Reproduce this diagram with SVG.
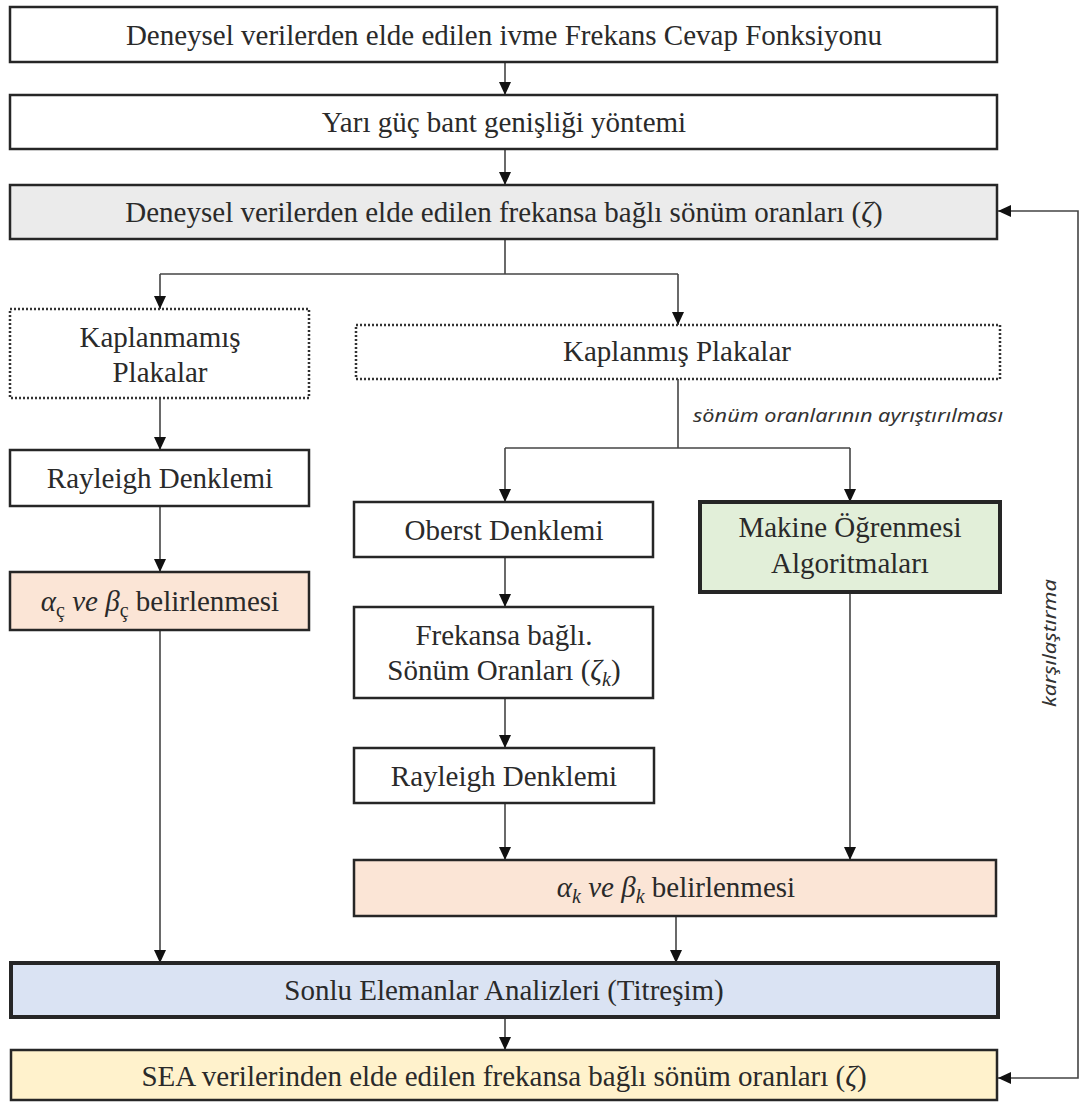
<svg xmlns="http://www.w3.org/2000/svg" width="1086" height="1104" viewBox="0 0 1086 1104">
<style>
.box{fill:#ffffff;stroke:#262626;stroke-width:2.5}
.thick{stroke-width:4}
.dot{fill:#ffffff;stroke:#333333;stroke-width:2.5;stroke-dasharray:2 2}
.t{font-family:"Liberation Serif","Times New Roman",serif;font-size:29px;fill:#2a2a2a;text-anchor:middle}
.it{font-style:italic}
.lbl{font-family:"Noto Sans","Liberation Sans",sans-serif;font-style:italic;font-size:18px;fill:#333333}
.c{fill:none;stroke:#444444;stroke-width:1.6}
</style>
<defs>
<marker id="ah" markerUnits="userSpaceOnUse" markerWidth="14" markerHeight="13" refX="13" refY="6" orient="auto-start-reverse">
<path d="M0,0 L13,6 L0,12 z" fill="#111111"/>
</marker>
</defs>

<g id="connectors">
<path class="c" d="M505 62 V95" marker-end="url(#ah)"/>
<path class="c" d="M505 149 V185" marker-end="url(#ah)"/>
<path class="c" d="M505 239 V274"/>
<path class="c" d="M160 274 H678"/>
<path class="c" d="M160 274 V309" marker-end="url(#ah)"/>
<path class="c" d="M678 274 V325" marker-end="url(#ah)"/>
<path class="c" d="M160 398 V450" marker-end="url(#ah)"/>
<path class="c" d="M160 506 V572" marker-end="url(#ah)"/>
<path class="c" d="M160 630 V963" marker-end="url(#ah)"/>
<path class="c" d="M678 379 V448"/>
<path class="c" d="M505 448 H850"/>
<path class="c" d="M505 448 V502" marker-end="url(#ah)"/>
<path class="c" d="M850 448 V502" marker-end="url(#ah)"/>
<path class="c" d="M505 557 V607" marker-end="url(#ah)"/>
<path class="c" d="M505 698 V748" marker-end="url(#ah)"/>
<path class="c" d="M505 803 V860" marker-end="url(#ah)"/>
<path class="c" d="M850 592 V860" marker-end="url(#ah)"/>
<path class="c" d="M676 916 V963" marker-end="url(#ah)"/>
<path class="c" d="M505 1017 V1050" marker-end="url(#ah)"/>
<path class="c" d="M998 211 H1078 V1078 H998" marker-start="url(#ah)" marker-end="url(#ah)"/>
<text class="lbl" x="693" y="422" textLength="310" lengthAdjust="spacingAndGlyphs">sönüm oranlarının ayrıştırılması</text>
<text class="lbl" transform="translate(1056,643) rotate(-90)" text-anchor="middle" textLength="128" lengthAdjust="spacingAndGlyphs">karşılaştırma</text>
</g>

<g id="n1">
<rect class="box" x="10" y="7" width="987" height="55"/>
<text class="t" x="504" y="45">Deneysel verilerden elde edilen ivme Frekans Cevap Fonksiyonu</text>
</g>
<g id="n2">
<rect class="box" x="10" y="95" width="987" height="54"/>
<text class="t" x="504" y="132">Yarı güç bant genişliği yöntemi</text>
</g>
<g id="n3">
<rect class="box" x="10" y="185" width="987" height="54" style="fill:#ebebeb"/>
<text class="t" x="504" y="222">Deneysel verilerden elde edilen frekansa bağlı sönüm oranları (<tspan class="it">ζ</tspan>)</text>
</g>
<g id="n4">
<rect class="dot" x="10" y="309" width="299" height="89"/>
<text class="t" x="160" y="347">Kaplanmamış</text>
<text class="t" x="160" y="382">Plakalar</text>
</g>
<g id="n5">
<rect class="dot" x="356" y="325" width="644" height="54"/>
<text class="t" x="677" y="361">Kaplanmış Plakalar</text>
</g>
<g id="n6">
<rect class="box" x="10" y="450" width="299" height="56"/>
<text class="t" x="160" y="488">Rayleigh Denklemi</text>
</g>
<g id="n7">
<rect class="box" x="10" y="572" width="299" height="58" style="fill:#fbe5d6"/>
<text class="t" x="160" y="611"><tspan class="it">α</tspan><tspan font-size="20" dy="6">ç</tspan><tspan class="it" dy="-6"> ve β</tspan><tspan font-size="20" dy="6">ç</tspan><tspan dy="-6"> belirlenmesi</tspan></text>
</g>
<g id="n8">
<rect class="box" x="354" y="502" width="299" height="55"/>
<text class="t" x="504" y="540">Oberst Denklemi</text>
</g>
<g id="n9">
<rect class="box thick" x="700" y="502" width="300" height="90" style="fill:#e2efd9"/>
<text class="t" x="850" y="537">Makine Öğrenmesi</text>
<text class="t" x="850" y="573">Algoritmaları</text>
</g>
<g id="n10">
<rect class="box" x="354" y="607" width="299" height="91"/>
<text class="t" x="504" y="645">Frekansa bağlı.</text>
<text class="t" x="504" y="680">Sönüm Oranları (<tspan class="it">ζ</tspan><tspan class="it" font-size="20" dy="6">k</tspan><tspan dy="-6">)</tspan></text>
</g>
<g id="n11">
<rect class="box" x="354" y="748" width="300" height="55"/>
<text class="t" x="504" y="786">Rayleigh Denklemi</text>
</g>
<g id="n12">
<rect class="box" x="354" y="860" width="642" height="56" style="fill:#fbe5d6"/>
<text class="t" x="676" y="897"><tspan class="it">α</tspan><tspan class="it" font-size="20" dy="6">k</tspan><tspan class="it" dy="-6"> ve β</tspan><tspan class="it" font-size="20" dy="6">k</tspan><tspan dy="-6"> belirlenmesi</tspan></text>
</g>
<g id="n13">
<rect class="box thick" x="11" y="963" width="987" height="54" style="fill:#dae3f3"/>
<text class="t" x="504" y="1000">Sonlu Elemanlar Analizleri (Titreşim)</text>
</g>
<g id="n14">
<rect class="box" x="11" y="1050" width="986" height="50" style="fill:#fff2cc"/>
<text class="t" x="504" y="1086">SEA verilerinden elde edilen frekansa bağlı sönüm oranları (<tspan class="it">ζ</tspan>)</text>
</g>
</svg>
